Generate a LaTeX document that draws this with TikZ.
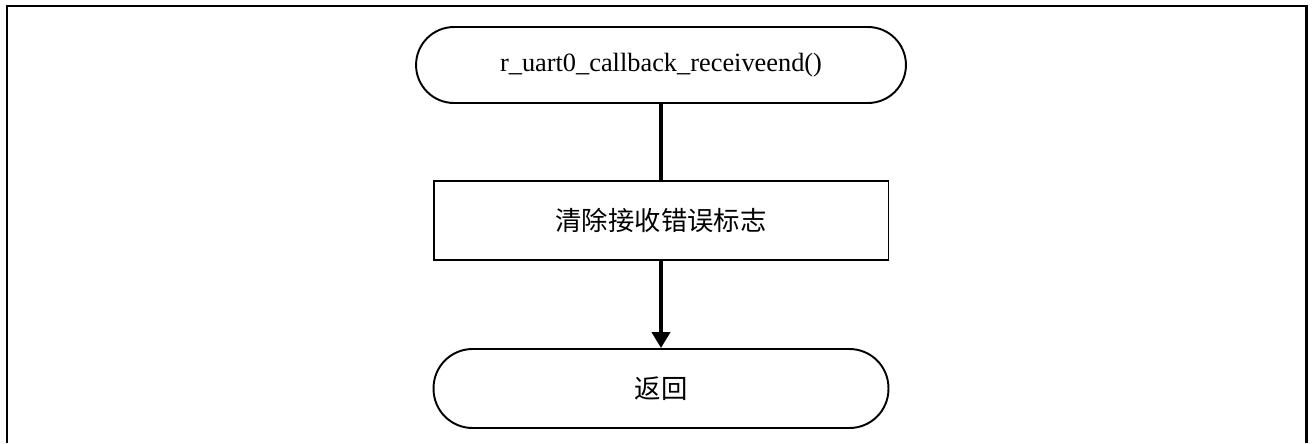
\documentclass[tikz,border=0pt]{standalone}
\usepackage{fontspec}
\setmainfont{Liberation Serif}
\newfontfamily\cjk{Noto Sans CJK SC}
\usepackage{tikz}
\usetikzlibrary{arrows.meta}

\begin{document}
\begin{tikzpicture}[x=0.02cm,y=-0.02cm,every node/.style={font=\fontsize{15}{18}\selectfont},
    term/.style={draw,line width=1.1pt,rounded corners=0.76cm,minimum width=9.8cm,minimum height=1.52cm,inner sep=0pt},
    proc/.style={draw,line width=1.1pt,minimum width=9.1cm,minimum height=1.58cm,inner sep=0pt},
    flow/.style={line width=2.3pt}]
          \useasboundingbox (0,0) rectangle (1314,443);
          \draw[line width=1.7pt] (7,443) -- (7,6) -- (1306,6) -- (1306,443);

          \node[term] (Start) at (661,65) {r\_uart0\_callback\_receiveend()};
          \node[proc] (Clear) at (661,220.5) {\cjk 清除接收错误标志};
          \node[term,minimum width=9.1cm,minimum height=1.58cm,rounded corners=0.78cm] (Ret) at (661,388.5) {\cjk 返回};

          \draw[flow] (Start.south) -- (Clear.north);
          \draw[flow,-{Triangle[length=0.32cm,width=0.36cm]}] (Clear.south) -- (Ret.north);
        \end{tikzpicture}
\end{document}
